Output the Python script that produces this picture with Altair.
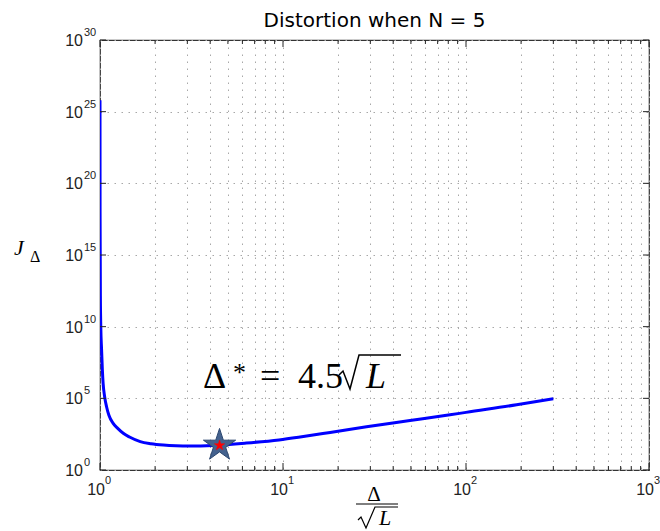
import altair as alt
import pandas as pd

# Distortion J_Δ as a function of the normalised step size Δ/√L (log-log)
delta_ratio = [1.0, 1.001, 1.005, 1.01, 1.02, 1.03, 1.04, 1.06, 1.086, 1.12, 1.18,
               1.25, 1.34, 1.45, 1.66, 1.9, 2.22, 2.6, 3.09, 4.17, 6.3, 9.5,
               12.4, 18.1, 28.6, 49.4, 81.8, 100.0, 189.0, 300.0]
distortion = [6.3e25, 1e18, 1e12, 1e10, 2.5e8, 1e7, 1.1e6, 1.3e5, 2.6e4, 6.3e3, 1.8e3,
              800, 363, 200, 95, 68, 55, 49, 47, 52, 76, 126,
              200, 417, 1047, 2820, 7080, 10500, 35500, 9.5e4]

# optimum Δ* = 4.5 √L
optimum_ratio = [4.5]
optimum_distortion = [52]

# axis decorations
x_decades = [1, 10, 100, 1000]
x_exponents = ["0", "1", "2", "3"]
x_minor = [2, 3, 4, 5, 6, 7, 8, 9,
           20, 30, 40, 50, 60, 70, 80, 90,
           200, 300, 400, 500, 600, 700, 800, 900]
y_decades = [1e0, 1e5, 1e10, 1e15, 1e20, 1e25, 1e30]
y_exponents = ["0", "5", "10", "15", "20", "25", "30"]

W, H = 549, 430
INK = "#222222"
GRID = "#a8a8a8"

xs = alt.Scale(type="log", domain=[1, 1000], nice=False)
ys = alt.Scale(type="log", domain=[1, 1e30], nice=False)
x_axis = alt.Axis(values=sorted(x_decades + x_minor), grid=True, labels=False,
                  ticks=False, domain=False, title=None,
                  gridDash=[1.5, 5.5], gridColor=GRID, gridWidth=1)
y_axis = alt.Axis(values=y_decades, grid=True, labels=False, ticks=False,
                  domain=False, title=None,
                  gridDash=[1.5, 5.5], gridColor=GRID, gridWidth=1)

curve_df = pd.DataFrame({"ratio": delta_ratio, "J": distortion})
opt_df = pd.DataFrame({"ratio": optimum_ratio, "J": optimum_distortion})
xdec_df = pd.DataFrame({"v": x_decades, "e": x_exponents})
xmin_df = pd.DataFrame({"v": x_minor})
ydec_df = pd.DataFrame({"v": y_decades, "e": y_exponents})
one = pd.DataFrame({"k": [0]})

X = lambda f: alt.X(f, scale=xs, axis=x_axis)
Y = lambda f: alt.Y(f, scale=ys, axis=y_axis)

curve = alt.Chart(curve_df).mark_line(
    color="#0000ff", strokeWidth=3, clip=True, interpolate="monotone"
).encode(x=X("ratio:Q"), y=Y("J:Q"))

# inward ticks on all four sides
xmaj_bot = alt.Chart(xdec_df).mark_rule(color=INK).encode(
    x=X("v:Q"), y=alt.value(H), y2=alt.value(H - 7))
xmaj_top = alt.Chart(xdec_df).mark_rule(color=INK).encode(
    x=X("v:Q"), y=alt.value(0), y2=alt.value(7))
xmin_bot = alt.Chart(xmin_df).mark_rule(color=INK).encode(
    x=X("v:Q"), y=alt.value(H), y2=alt.value(H - 4))
xmin_top = alt.Chart(xmin_df).mark_rule(color=INK).encode(
    x=X("v:Q"), y=alt.value(0), y2=alt.value(4))
ymaj_left = alt.Chart(ydec_df).mark_rule(color=INK).encode(
    y=Y("v:Q"), x=alt.value(0), x2=alt.value(6))
ymaj_right = alt.Chart(ydec_df).mark_rule(color=INK).encode(
    y=Y("v:Q"), x=alt.value(W), x2=alt.value(W - 6))

# tick labels: "10" with a raised exponent
tick_font = "Liberation Sans"
xlab_base = alt.Chart(xdec_df).mark_text(
    align="right", baseline="alphabetic", dx=5, fontSize=16, font=tick_font, color=INK
).encode(x=X("v:Q"), y=alt.value(H + 25), text=alt.value("10"))
xlab_exp = alt.Chart(xdec_df).mark_text(
    align="left", baseline="alphabetic", dx=5, fontSize=11, font=tick_font, color=INK
).encode(x=X("v:Q"), y=alt.value(H + 14), text="e:N")
ylab_base = alt.Chart(ydec_df).mark_text(
    align="right", baseline="alphabetic", dy=6, fontSize=16, font=tick_font, color=INK
).encode(y=Y("v:Q"), x=alt.value(-17), text=alt.value("10"))
ylab_exp = alt.Chart(ydec_df).mark_text(
    align="left", baseline="alphabetic", dy=-4, fontSize=11, font=tick_font, color=INK
).encode(y=Y("v:Q"), x=alt.value(-16), text="e:N")

# optimum marker: large star with a small red star inside
STAR = ("M0,-1 L0.2245,-0.309 L0.9511,-0.309 L0.3633,0.118 L0.5878,0.809 "
        "L0,0.382 L-0.5878,0.809 L-0.3633,0.118 L-0.9511,-0.309 L-0.2245,-0.309 Z")
star_big = alt.Chart(opt_df).mark_point(
    shape=STAR, size=1150, filled=True, fill="#44628e", stroke="#2c4770",
    strokeWidth=1, opacity=1
).encode(x=X("ratio:Q"), y=Y("J:Q"))
star_small = alt.Chart(opt_df).mark_point(
    shape=STAR, size=120, filled=True, fill="#ff0000", stroke="#ff0000",
    strokeWidth=0.5, opacity=1
).encode(x=X("ratio:Q"), y=Y("J:Q"))

serif = "Liberation Serif"

def txt(s, x, y, size, style="normal", align="left", font=serif, weight="normal"):
    return alt.Chart(one).mark_text(
        text=s, align=align, baseline="alphabetic", fontSize=size,
        fontStyle=style, fontWeight=weight, font=font, color="black"
    ).encode(x=alt.value(x), y=alt.value(y))

def radical(path, x, y, width=1.5):
    return alt.Chart(one).mark_point(
        shape=path, size=4, filled=False, stroke="black", strokeWidth=width, opacity=1
    ).encode(x=alt.value(x), y=alt.value(y))

# annotation  Δ* = 4.5 √L
annotation = [
    txt("Δ", 103, 348, 36),
    txt("*", 133, 341, 26),
    txt("=", 160, 348, 36),
    txt("4.5", 198, 348, 36),
    radical("M0,3 L4,-1 L11,17 L20,-17 L62,-17", 239, 332, 1.5),
    txt("L", 266, 348, 36, "italic"),
]

# x-axis title: Δ over √L
x_title = [
    txt("Δ", 274, 461, 21, align="center"),
    alt.Chart(one).mark_rule(color="black", strokeWidth=1.2).encode(
        x=alt.value(256), x2=alt.value(298), y=alt.value(464)),
    radical("M0,1 L3,-2 L8,9 L17,-12 L40,-12", 258, 479, 1.2),
    txt("L", 279, 485, 22, "italic"),
]

# y-axis title: J_Δ
y_title = [
    txt("J", -86, 215, 22, "italic"),
    txt("Δ", -70, 222, 16),
]

title = txt("Distortion when N = 5", W / 2, -13, 20, align="center", font="DejaVu Sans")

chart = alt.layer(
    curve, xmaj_bot, xmaj_top, xmin_bot, xmin_top, ymaj_left, ymaj_right,
    xlab_base, xlab_exp, ylab_base, ylab_exp,
    star_big, star_small,
    *annotation, *x_title, *y_title, title
).properties(
    width=W, height=H,
    autosize=alt.AutoSizeParams(type="none"),
    padding={"left": 100, "top": 40, "right": 11, "bottom": 61},
    background="white",
).configure_view(stroke="#333333", strokeWidth=1.2)

chart.save("out.html", embed_options={"renderer": "svg", "actions": False})
